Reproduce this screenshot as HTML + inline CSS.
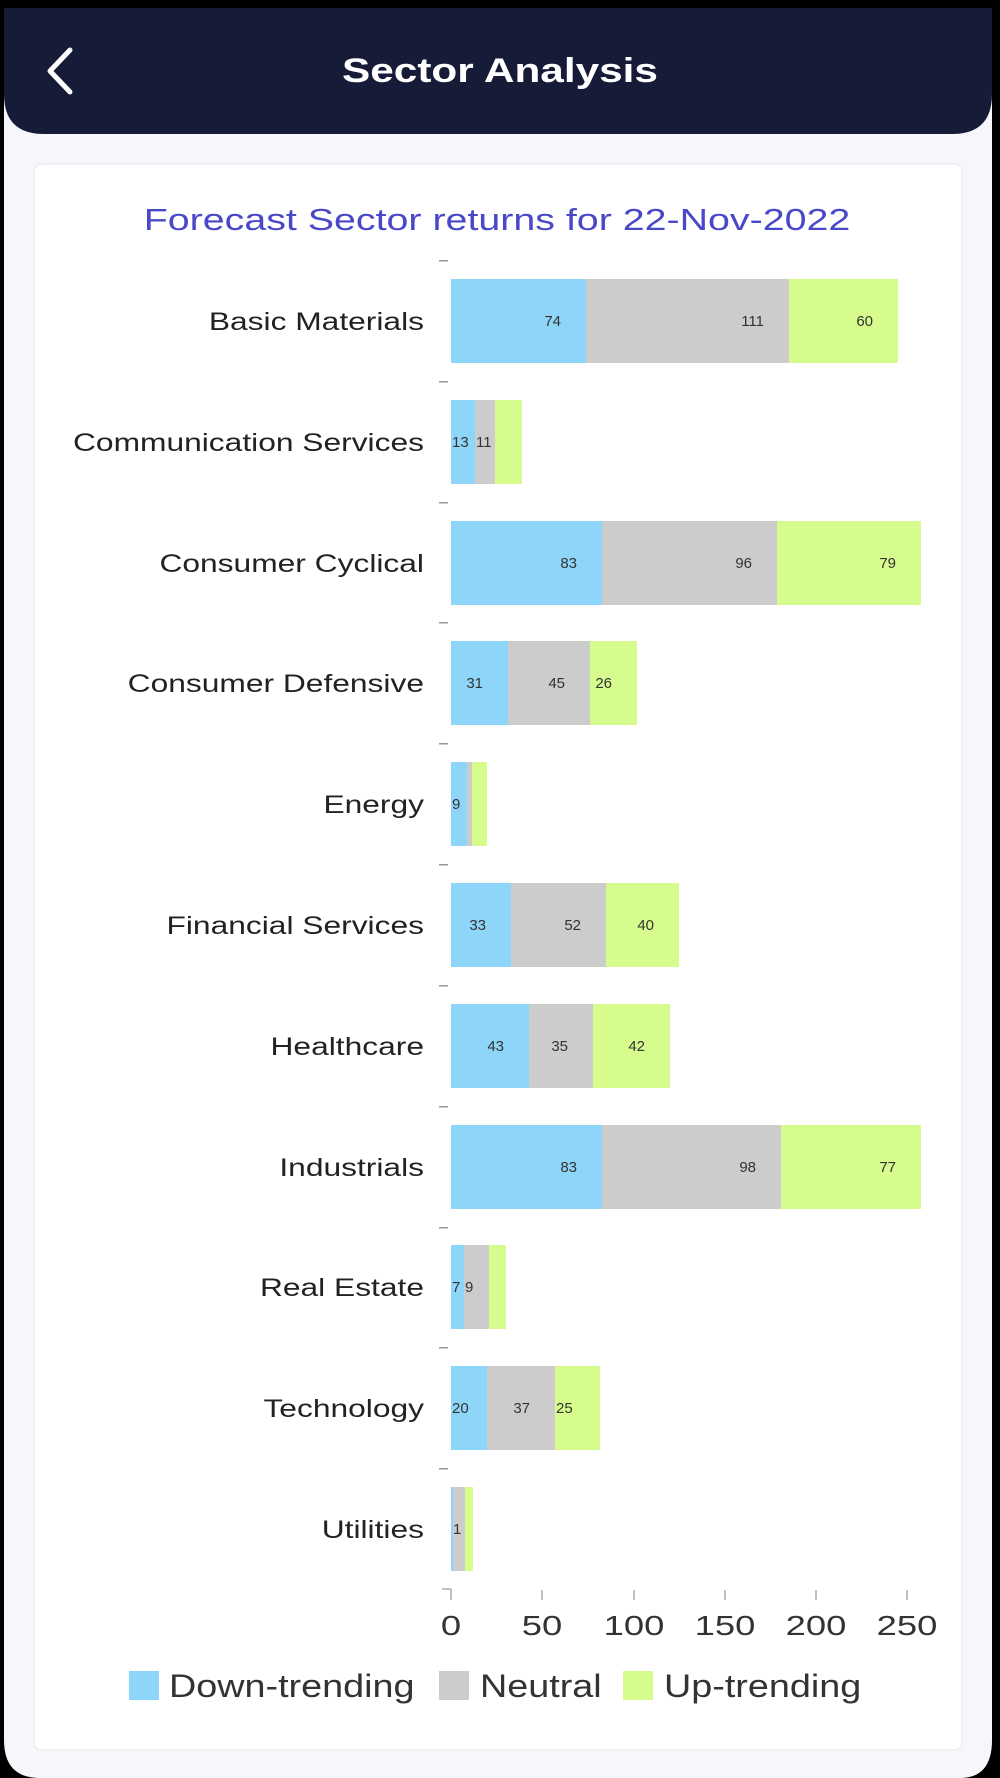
<!DOCTYPE html>
<html><head><meta charset="utf-8"><style>
html,body{margin:0;padding:0;background:#000;}
svg{display:block;}
</style></head><body>
<svg width="1000" height="1778" viewBox="0 0 1000 1778" xmlns="http://www.w3.org/2000/svg" font-family="Liberation Sans, sans-serif">
<rect x="0" y="0" width="1000" height="1778" fill="#000"/>
<path d="M4 8 H992 V1740 Q992 1778 960 1778 H40 Q4 1778 4 1740 Z" fill="#f5f7fa"/>
<path d="M4 8 H992 V94 Q992 134 952 134 H44 Q4 134 4 94 Z" fill="#161b38"/>
<path d="M70 50 L50 71 L70 92" fill="none" stroke="#fff" stroke-width="5" stroke-linecap="round" stroke-linejoin="round"/>
<g transform="translate(500,82) scale(1.245,1)"><text x="0" y="0" text-anchor="middle" fill="#fff" font-size="34" font-weight="bold">Sector Analysis</text></g>
<rect x="34" y="164" width="928" height="1586" rx="8" fill="#fff" stroke="#e6e8ec" stroke-width="1"/>
<g transform="translate(497,230) scale(1.27,1)"><text x="0" y="0" text-anchor="middle" fill="#4848c8" font-size="31">Forecast Sector returns for 22-Nov-2022</text></g>
<g fill="#999">
<rect x="439" y="260" width="9" height="1.5"/><rect x="439" y="381" width="9" height="1.5"/><rect x="439" y="502" width="9" height="1.5"/><rect x="439" y="622" width="9" height="1.5"/><rect x="439" y="743" width="9" height="1.5"/><rect x="439" y="864" width="9" height="1.5"/><rect x="439" y="985" width="9" height="1.5"/><rect x="439" y="1106" width="9" height="1.5"/><rect x="439" y="1227" width="9" height="1.5"/><rect x="439" y="1347" width="9" height="1.5"/><rect x="439" y="1468" width="9" height="1.5"/>
</g>
<g transform="translate(424,0) scale(1.27,1)" font-size="25" fill="#222" text-anchor="end">
<text x="0" y="330">Basic Materials</text>
<text x="0" y="451">Communication Services</text>
<text x="0" y="572">Consumer Cyclical</text>
<text x="0" y="692">Consumer Defensive</text>
<text x="0" y="813">Energy</text>
<text x="0" y="934">Financial Services</text>
<text x="0" y="1055">Healthcare</text>
<text x="0" y="1176">Industrials</text>
<text x="0" y="1296">Real Estate</text>
<text x="0" y="1417">Technology</text>
<text x="0" y="1538">Utilities</text>
</g>
<g>
<rect x="451" y="279" width="135" height="84" fill="#8dd6f9"/><rect x="586" y="279" width="203" height="84" fill="#cccccc"/><rect x="789" y="279" width="109" height="84" fill="#d6fc8e"/>
<rect x="451" y="400" width="24" height="84" fill="#8dd6f9"/><rect x="475" y="400" width="20" height="84" fill="#cccccc"/><rect x="495" y="400" width="27" height="84" fill="#d6fc8e"/>
<rect x="451" y="521" width="151" height="84" fill="#8dd6f9"/><rect x="602" y="521" width="175" height="84" fill="#cccccc"/><rect x="777" y="521" width="144" height="84" fill="#d6fc8e"/>
<rect x="451" y="641" width="57" height="84" fill="#8dd6f9"/><rect x="508" y="641" width="82" height="84" fill="#cccccc"/><rect x="590" y="641" width="47" height="84" fill="#d6fc8e"/>
<rect x="451" y="762" width="16" height="84" fill="#8dd6f9"/><rect x="467" y="762" width="5" height="84" fill="#cccccc"/><rect x="472" y="762" width="15" height="84" fill="#d6fc8e"/>
<rect x="451" y="883" width="60" height="84" fill="#8dd6f9"/><rect x="511" y="883" width="95" height="84" fill="#cccccc"/><rect x="606" y="883" width="73" height="84" fill="#d6fc8e"/>
<rect x="451" y="1004" width="78" height="84" fill="#8dd6f9"/><rect x="529" y="1004" width="64" height="84" fill="#cccccc"/><rect x="593" y="1004" width="77" height="84" fill="#d6fc8e"/>
<rect x="451" y="1125" width="151" height="84" fill="#8dd6f9"/><rect x="602" y="1125" width="179" height="84" fill="#cccccc"/><rect x="781" y="1125" width="140" height="84" fill="#d6fc8e"/>
<rect x="451" y="1245" width="13" height="84" fill="#8dd6f9"/><rect x="464" y="1245" width="25" height="84" fill="#cccccc"/><rect x="489" y="1245" width="17" height="84" fill="#d6fc8e"/>
<rect x="451" y="1366" width="36" height="84" fill="#8dd6f9"/><rect x="487" y="1366" width="68" height="84" fill="#cccccc"/><rect x="555" y="1366" width="45" height="84" fill="#d6fc8e"/>
<rect x="451" y="1487" width="2" height="84" fill="#8dd6f9"/><rect x="453" y="1487" width="12" height="84" fill="#cccccc"/><rect x="465" y="1487" width="8" height="84" fill="#d6fc8e"/>
</g>
<g font-size="15" fill="#333" text-anchor="end">
<text x="561" y="326">74</text><text x="764" y="326">111</text><text x="873" y="326">60</text>
<text x="577" y="568">83</text><text x="752" y="568">96</text><text x="896" y="568">79</text>
<text x="483" y="688">31</text><text x="565" y="688">45</text><text x="612" y="688">26</text>
<text x="486" y="930">33</text><text x="581" y="930">52</text><text x="654" y="930">40</text>
<text x="504" y="1051">43</text><text x="568" y="1051">35</text><text x="645" y="1051">42</text>
<text x="577" y="1172">83</text><text x="756" y="1172">98</text><text x="896" y="1172">77</text>
<text x="530" y="1413">37</text>
</g>
<g font-size="15" fill="#333">
<text x="452" y="447">13</text><text x="476" y="447">11</text>
<text x="452" y="809">9</text>
<text x="452" y="1292">7</text><text x="465" y="1292">9</text>
<text x="452" y="1413">20</text><text x="556" y="1413">25</text>
<text x="453" y="1534">1</text>
</g>
<g stroke="#aaa" stroke-width="1.5">
<line x1="442" y1="1589" x2="451" y2="1589"/>
<line x1="451" y1="1589" x2="451" y2="1600"/>
<line x1="542" y1="1590" x2="542" y2="1600"/>
<line x1="634" y1="1590" x2="634" y2="1600"/>
<line x1="725" y1="1590" x2="725" y2="1600"/>
<line x1="816" y1="1590" x2="816" y2="1600"/>
<line x1="907" y1="1590" x2="907" y2="1600"/>
</g>
<g font-size="28" fill="#333" text-anchor="middle">
<text transform="translate(451,1635) scale(1.3,1)">0</text>
<text transform="translate(542,1635) scale(1.3,1)">50</text>
<text transform="translate(634,1635) scale(1.3,1)">100</text>
<text transform="translate(725,1635) scale(1.3,1)">150</text>
<text transform="translate(816,1635) scale(1.3,1)">200</text>
<text transform="translate(907,1635) scale(1.3,1)">250</text>
</g>
<rect x="129" y="1671" width="30" height="29" fill="#8dd6f9"/>
<text transform="translate(169,1697) scale(1.18,1)" font-size="32" fill="#333">Down-trending</text>
<rect x="439" y="1671" width="30" height="29" fill="#cccccc"/>
<text transform="translate(480,1697) scale(1.18,1)" font-size="32" fill="#333">Neutral</text>
<rect x="623" y="1671" width="30" height="29" fill="#d6fc8e"/>
<text transform="translate(664,1697) scale(1.18,1)" font-size="32" fill="#333">Up-trending</text>
</svg>
</body></html>
